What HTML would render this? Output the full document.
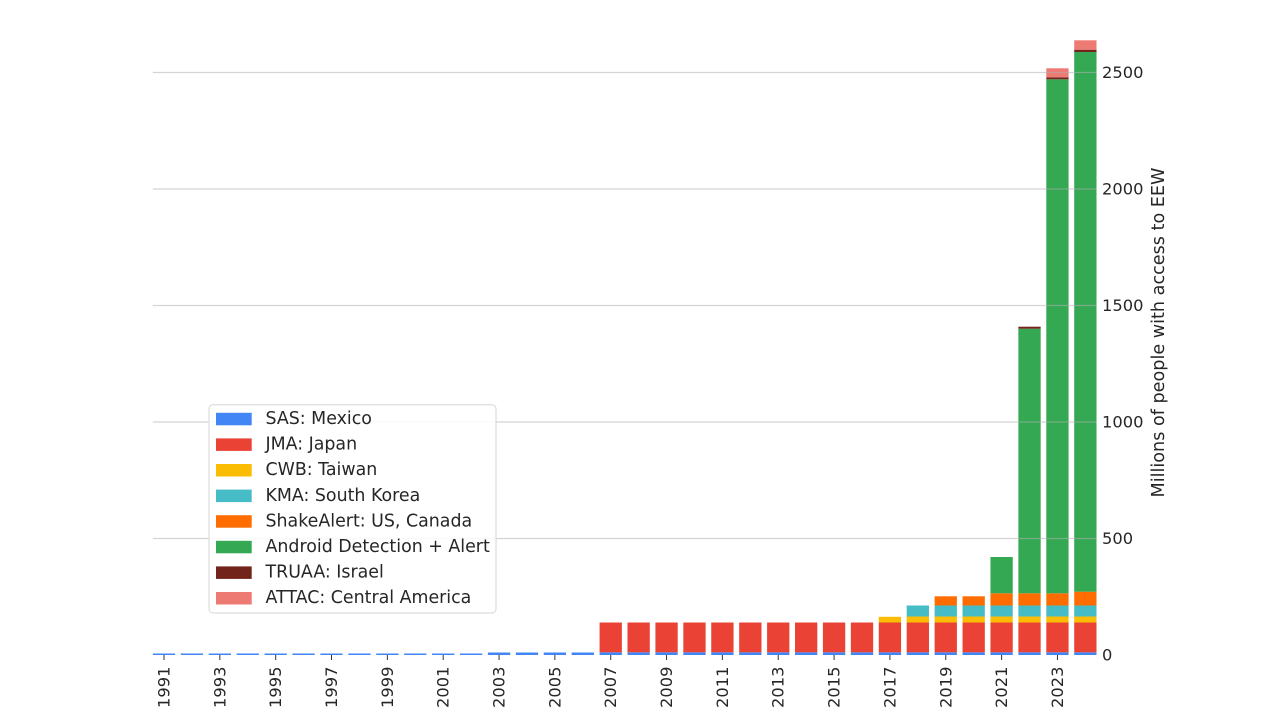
<!DOCTYPE html>
<html><head><meta charset="utf-8"><style>
html,body{margin:0;padding:0;background:#fff;}
svg{display:block;}
text{font-family:"DejaVu Sans","Liberation Sans",sans-serif;fill:#262626;}
</style></head><body>
<svg width="1280" height="720" viewBox="0 0 1280 720" xmlns="http://www.w3.org/2000/svg">
<rect width="1280" height="720" fill="#fff"/>
<!-- SAS Mexico -->
<g fill="#4285F4">
<rect x="152.85" y="653.5" width="22.3" height="1.5"/>
<rect x="180.77" y="653.5" width="22.3" height="1.5"/>
<rect x="208.69" y="653.5" width="22.3" height="1.5"/>
<rect x="236.61" y="653.5" width="22.3" height="1.5"/>
<rect x="264.53" y="653.5" width="22.3" height="1.5"/>
<rect x="292.45" y="653.5" width="22.3" height="1.5"/>
<rect x="320.37" y="653.5" width="22.3" height="1.5"/>
<rect x="348.29" y="653.5" width="22.3" height="1.5"/>
<rect x="376.21" y="653.5" width="22.3" height="1.5"/>
<rect x="404.13" y="653.5" width="22.3" height="1.5"/>
<rect x="432.05" y="653.5" width="22.3" height="1.5"/>
<rect x="459.97" y="653.5" width="22.3" height="1.5"/>
<rect x="487.89" y="652.5" width="22.3" height="2.5"/>
<rect x="515.81" y="652.5" width="22.3" height="2.5"/>
<rect x="543.73" y="652.5" width="22.3" height="2.5"/>
<rect x="571.65" y="652.5" width="22.3" height="2.5"/>
<rect x="599.57" y="652.3" width="22.3" height="2.7"/>
<rect x="627.49" y="652.3" width="22.3" height="2.7"/>
<rect x="655.41" y="652.3" width="22.3" height="2.7"/>
<rect x="683.33" y="652.3" width="22.3" height="2.7"/>
<rect x="711.25" y="652.3" width="22.3" height="2.7"/>
<rect x="739.17" y="652.3" width="22.3" height="2.7"/>
<rect x="767.09" y="652.3" width="22.3" height="2.7"/>
<rect x="795.01" y="652.3" width="22.3" height="2.7"/>
<rect x="822.93" y="652.3" width="22.3" height="2.7"/>
<rect x="850.85" y="652.3" width="22.3" height="2.7"/>
<rect x="878.77" y="652.3" width="22.3" height="2.7"/>
<rect x="906.69" y="652.3" width="22.3" height="2.7"/>
<rect x="934.61" y="652.3" width="22.3" height="2.7"/>
<rect x="962.53" y="652.3" width="22.3" height="2.7"/>
<rect x="990.45" y="652.3" width="22.3" height="2.7"/>
<rect x="1018.37" y="652.3" width="22.3" height="2.7"/>
<rect x="1046.29" y="652.3" width="22.3" height="2.7"/>
<rect x="1074.21" y="652.3" width="22.3" height="2.7"/>
</g>
<!-- JMA Japan -->
<g fill="#EA4335">
<rect x="599.57" y="622.5" width="22.3" height="29.8"/>
<rect x="627.49" y="622.5" width="22.3" height="29.8"/>
<rect x="655.41" y="622.5" width="22.3" height="29.8"/>
<rect x="683.33" y="622.5" width="22.3" height="29.8"/>
<rect x="711.25" y="622.5" width="22.3" height="29.8"/>
<rect x="739.17" y="622.5" width="22.3" height="29.8"/>
<rect x="767.09" y="622.5" width="22.3" height="29.8"/>
<rect x="795.01" y="622.5" width="22.3" height="29.8"/>
<rect x="822.93" y="622.5" width="22.3" height="29.8"/>
<rect x="850.85" y="622.5" width="22.3" height="29.8"/>
<rect x="878.77" y="622.5" width="22.3" height="29.8"/>
<rect x="906.69" y="622.5" width="22.3" height="29.8"/>
<rect x="934.61" y="622.5" width="22.3" height="29.8"/>
<rect x="962.53" y="622.5" width="22.3" height="29.8"/>
<rect x="990.45" y="622.5" width="22.3" height="29.8"/>
<rect x="1018.37" y="622.5" width="22.3" height="29.8"/>
<rect x="1046.29" y="622.5" width="22.3" height="29.8"/>
<rect x="1074.21" y="622.5" width="22.3" height="29.8"/>
</g>
<!-- CWB Taiwan -->
<g fill="#FBBC04">
<rect x="878.77" y="616.8" width="22.3" height="5.7"/>
<rect x="906.69" y="616.5" width="22.3" height="6"/>
<rect x="934.61" y="616.5" width="22.3" height="6"/>
<rect x="962.53" y="616.5" width="22.3" height="6"/>
<rect x="990.45" y="616.5" width="22.3" height="6"/>
<rect x="1018.37" y="616.5" width="22.3" height="6"/>
<rect x="1046.29" y="616.5" width="22.3" height="6"/>
<rect x="1074.21" y="616.5" width="22.3" height="6"/>
</g>
<!-- KMA -->
<g fill="#46BDC6">
<rect x="906.69" y="605.5" width="22.3" height="11"/>
<rect x="934.61" y="605.5" width="22.3" height="11"/>
<rect x="962.53" y="605.5" width="22.3" height="11"/>
<rect x="990.45" y="605.5" width="22.3" height="11"/>
<rect x="1018.37" y="605.5" width="22.3" height="11"/>
<rect x="1046.29" y="605.5" width="22.3" height="11"/>
<rect x="1074.21" y="605.5" width="22.3" height="11"/>
</g>
<!-- ShakeAlert -->
<g fill="#FF6D01">
<rect x="934.61" y="596.3" width="22.3" height="9.2"/>
<rect x="962.53" y="596.3" width="22.3" height="9.2"/>
<rect x="990.45" y="593.3" width="22.3" height="12.2"/>
<rect x="1018.37" y="593.3" width="22.3" height="12.2"/>
<rect x="1046.29" y="593.3" width="22.3" height="12.2"/>
<rect x="1074.21" y="591.7" width="22.3" height="13.8"/>
</g>
<!-- Android -->
<g fill="#34A853">
<rect x="990.45" y="557" width="22.3" height="36.3"/>
<rect x="1018.37" y="328.7" width="22.3" height="264.6"/>
<rect x="1046.29" y="79.3" width="22.3" height="514"/>
<rect x="1074.21" y="52" width="22.3" height="539.7"/>
</g>
<!-- TRUAA -->
<g fill="#72241A">
<rect x="1018.37" y="326.7" width="22.3" height="2"/>
<rect x="1046.29" y="77.3" width="22.3" height="2"/>
<rect x="1074.21" y="49.7" width="22.3" height="2.3"/>
</g>
<!-- ATTAC -->
<g fill="#EE7B73">
<rect x="1046.29" y="68.3" width="22.3" height="9"/>
<rect x="1074.21" y="40.3" width="22.3" height="9.4"/>
</g>
<!-- gridlines -->
<g stroke="#b0b0b0" stroke-opacity="0.55" stroke-width="1.3">
<line x1="152.8" y1="538.5" x2="1096.7" y2="538.5"/>
<line x1="152.8" y1="422" x2="1096.7" y2="422"/>
<line x1="152.8" y1="305.5" x2="1096.7" y2="305.5"/>
<line x1="152.8" y1="189" x2="1096.7" y2="189"/>
<line x1="152.8" y1="72.5" x2="1096.7" y2="72.5"/>
</g>
<!-- y labels -->
<g font-size="16.3" dominant-baseline="central">
<text x="1102" y="655">0</text>
<text x="1102" y="538.5">500</text>
<text x="1102" y="422">1000</text>
<text x="1102" y="305.5">1500</text>
<text x="1102" y="189">2000</text>
<text x="1102" y="72.5">2500</text>
</g>
<text transform="translate(1159,332.5) rotate(-90)" font-size="17.6" text-anchor="middle" dominant-baseline="central">Millions of people with access to EEW</text>
<!-- x ticks -->
<g stroke="#333" stroke-width="1">
<line x1="164" y1="655" x2="164" y2="660"/>
<line x1="219.84" y1="655" x2="219.84" y2="660"/>
<line x1="275.68" y1="655" x2="275.68" y2="660"/>
<line x1="331.52" y1="655" x2="331.52" y2="660"/>
<line x1="387.36" y1="655" x2="387.36" y2="660"/>
<line x1="443.2" y1="655" x2="443.2" y2="660"/>
<line x1="499.04" y1="655" x2="499.04" y2="660"/>
<line x1="554.88" y1="655" x2="554.88" y2="660"/>
<line x1="610.72" y1="655" x2="610.72" y2="660"/>
<line x1="666.56" y1="655" x2="666.56" y2="660"/>
<line x1="722.4" y1="655" x2="722.4" y2="660"/>
<line x1="778.24" y1="655" x2="778.24" y2="660"/>
<line x1="834.08" y1="655" x2="834.08" y2="660"/>
<line x1="889.92" y1="655" x2="889.92" y2="660"/>
<line x1="945.76" y1="655" x2="945.76" y2="660"/>
<line x1="1001.6" y1="655" x2="1001.6" y2="660"/>
<line x1="1057.44" y1="655" x2="1057.44" y2="660"/>
</g>
<g font-size="16.3" text-anchor="end" dominant-baseline="central">
<text transform="translate(164,666.5) rotate(-90)">1991</text>
<text transform="translate(219.84,666.5) rotate(-90)">1993</text>
<text transform="translate(275.68,666.5) rotate(-90)">1995</text>
<text transform="translate(331.52,666.5) rotate(-90)">1997</text>
<text transform="translate(387.36,666.5) rotate(-90)">1999</text>
<text transform="translate(443.2,666.5) rotate(-90)">2001</text>
<text transform="translate(499.04,666.5) rotate(-90)">2003</text>
<text transform="translate(554.88,666.5) rotate(-90)">2005</text>
<text transform="translate(610.72,666.5) rotate(-90)">2007</text>
<text transform="translate(666.56,666.5) rotate(-90)">2009</text>
<text transform="translate(722.4,666.5) rotate(-90)">2011</text>
<text transform="translate(778.24,666.5) rotate(-90)">2013</text>
<text transform="translate(834.08,666.5) rotate(-90)">2015</text>
<text transform="translate(889.92,666.5) rotate(-90)">2017</text>
<text transform="translate(945.76,666.5) rotate(-90)">2019</text>
<text transform="translate(1001.6,666.5) rotate(-90)">2021</text>
<text transform="translate(1057.44,666.5) rotate(-90)">2023</text>
</g>
<!-- legend -->
<rect x="209" y="404.7" width="287" height="208.3" rx="4" ry="4" fill="#fff" fill-opacity="0.85" stroke="#d6d6d6" stroke-width="1"/>
<g>
<rect x="216" y="412.8" width="35.7" height="12.5" fill="#4285F4"/>
<rect x="216" y="438.4" width="35.7" height="12.5" fill="#EA4335"/>
<rect x="216" y="464.0" width="35.7" height="12.5" fill="#FBBC04"/>
<rect x="216" y="489.6" width="35.7" height="12.5" fill="#46BDC6"/>
<rect x="216" y="515.2" width="35.7" height="12.5" fill="#FF6D01"/>
<rect x="216" y="540.8" width="35.7" height="12.5" fill="#34A853"/>
<rect x="216" y="566.4" width="35.7" height="12.5" fill="#72241A"/>
<rect x="216" y="592.0" width="35.7" height="12.5" fill="#EE7B73"/>
</g>
<g font-size="17.4" dominant-baseline="central">
<text x="265.5" y="419">SAS: Mexico</text>
<text x="265.5" y="444.6">JMA: Japan</text>
<text x="265.5" y="470.2">CWB: Taiwan</text>
<text x="265.5" y="495.8">KMA: South Korea</text>
<text x="265.5" y="521.4">ShakeAlert: US, Canada</text>
<text x="265.5" y="547">Android Detection + Alert</text>
<text x="265.5" y="572.6">TRUAA: Israel</text>
<text x="265.5" y="598.2">ATTAC: Central America</text>
</g>
</svg>
</body></html>
